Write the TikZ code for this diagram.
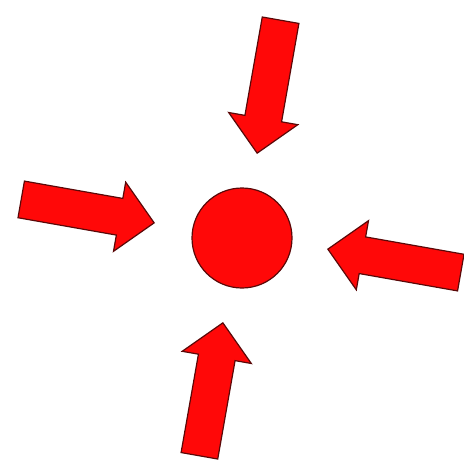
\documentclass[tikz,border=0pt]{standalone}
\usepackage{tikz}
\usetikzlibrary{shapes.arrows}
\definecolor{sigred}{HTML}{FF0808}
\definecolor{sigedge}{HTML}{5A0808}

\begin{document}
\begin{tikzpicture}[x=1mm, y=-1mm,
    push/.style={single arrow, draw=sigedge, fill=sigred, line width=1.2mm,
      inner sep=18mm, minimum height=135mm, single arrow head extend=16.5mm,
      anchor=tip},
    dot/.style={circle, draw=sigedge, fill=sigred, line width=1.2mm,
      minimum size=100mm, inner sep=0pt}]
    \useasboundingbox (0,0) rectangle (464,462);
    \node[dot] (c) at (242,238) {};
    \node[push, rotate=-100] (n) at (257,154) {};
    \node[push, rotate=-10] (w) at (155,223) {};
    \node[push, rotate=170] (e) at (327,249) {};
    \node[push, rotate=80] (s) at (223,322) {};
  \end{tikzpicture}
\end{document}
